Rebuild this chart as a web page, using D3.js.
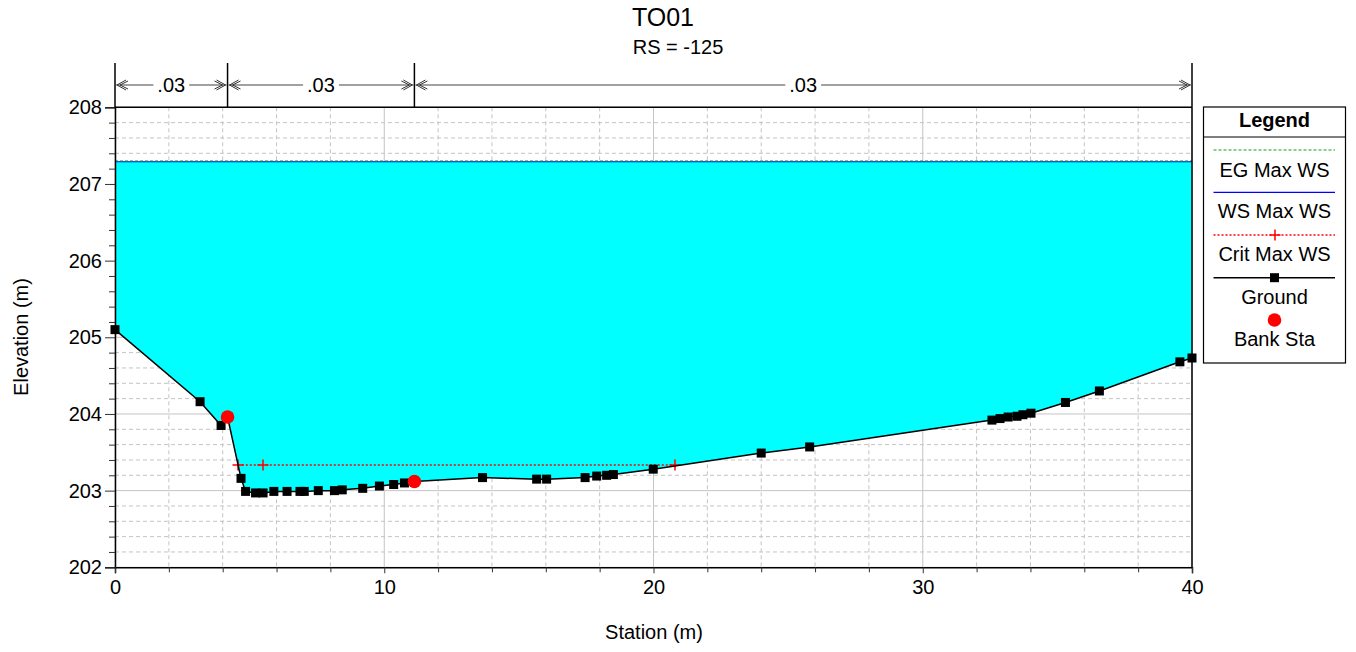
<!DOCTYPE html>
<html><head><meta charset="utf-8">
<script src="https://cdn.jsdelivr.net/npm/d3@7"></script>
<style>
html,body{margin:0;padding:0;background:#fff;}
svg text{font-family:"Liberation Sans",Arial,sans-serif;fill:#000;}
</style></head>
<body><svg id="c" width="1356" height="652"></svg>
<script>
const groundSta  = [0, 3.16, 3.94, 4.18, 4.68, 4.85, 5.22, 5.5, 5.9, 6.39, 6.87, 7.03, 7.55, 8.15, 8.44, 9.2, 9.82, 10.35, 10.75, 11.12, 13.65, 15.66, 16.03, 17.46, 17.89, 18.26, 18.51, 19.99, 24.0, 25.8, 32.57, 32.87, 33.17, 33.5, 33.72, 34.02, 35.3, 36.56, 39.55, 40];
const groundElev = [205.10, 204.16, 203.85, 203.96, 203.16, 202.99, 202.97, 202.97, 202.99, 202.99, 202.99, 202.99, 203.0, 203.0, 203.01, 203.03, 203.06, 203.08, 203.10, 203.12, 203.17, 203.15, 203.15, 203.17, 203.19, 203.20, 203.21, 203.28, 203.49, 203.57, 203.92, 203.94, 203.96, 203.97, 203.99, 204.01, 204.15, 204.30, 204.68, 204.73];
const bankSta  = [4.18, 11.12];
const bankElev = [203.96, 203.12];
const critSta  = [4.56, 5.5, 20.8];
const critElev = [203.33, 203.33, 203.33];
const wsElev = 207.29;
const egElev = 207.30;
const nBreaks = [0, 4.18, 11.12, 40];
const nLabels = [".03", ".03", ".03"];
const xTicks = [0, 10, 20, 30, 40];
const yTicks = [202, 203, 204, 205, 206, 207, 208];
const legendItems = ["EG Max WS", "WS Max WS", "Crit Max WS", "Ground", "Bank Sta"];

const svg = d3.select("#c");
const L = 115, R = 1192, T = 107.3, B = 567.3;
const x = d3.scaleLinear().domain([0, 40]).range([L, R]);
const y = d3.scaleLinear().domain([202, 208]).range([B, T]);
const FONT = 20;
const RED = "rgb(255,0,0)";

// gridlines
const grid = svg.append("g");
const minorX = d3.range(0, 40.001, 2);
const minorY = d3.range(202, 208.001, 0.2).map(v => +v.toFixed(1));
grid.selectAll(".gx").data(minorX).join("line")
  .attr("x1", d => x(d)).attr("x2", d => x(d)).attr("y1", T).attr("y2", B)
  .attr("stroke", "#c4c4c4").attr("stroke-width", 1)
  .attr("stroke-dasharray", d => (Math.abs(d % 10) < 1e-6) ? null : "4,3");
grid.selectAll(".gy").data(minorY).join("line")
  .attr("x1", L).attr("x2", R).attr("y1", d => y(d)).attr("y2", d => y(d))
  .attr("stroke", "#c4c4c4").attr("stroke-width", 1)
  .attr("stroke-dasharray", d => (Math.abs(d - Math.round(d)) < 1e-6) ? null : "4,3");

// water
const pts = groundSta.map((s, i) => [s, groundElev[i]]);
svg.append("path").datum(pts)
  .attr("d", d3.area().x(d => x(d[0])).y0(d => y(d[1])).y1(() => y(wsElev)))
  .attr("fill", "#00ffff");

// WS and EG
svg.append("line").attr("x1", x(0)).attr("x2", x(40)).attr("y1", y(wsElev)).attr("y2", y(wsElev))
  .attr("stroke", "#0000ff").attr("stroke-width", 1.2);
svg.append("line").attr("x1", x(0)).attr("x2", x(40)).attr("y1", y(egElev)).attr("y2", y(egElev))
  .attr("stroke", "#1a9a1a").attr("stroke-width", 1).attr("stroke-dasharray", "3,2");

// crit
const critPts = critSta.map((s, i) => [s, critElev[i]]);
svg.append("path").datum(critPts)
  .attr("d", d3.line().x(d => x(d[0])).y(d => Math.round(y(d[1]))))
  .attr("fill", "none").attr("stroke", RED).attr("stroke-width", 1.6)
  .attr("stroke-dasharray", "2,2");
const plus = (g, cx, cy) => {
  cx = Math.round(cx); cy = Math.round(cy);
  g.append("path").attr("d", `M${cx-5.5},${cy}H${cx+5.5}M${cx},${cy-5.5}V${cy+5.5}`)
   .attr("stroke", RED).attr("stroke-width", 1.5).attr("fill", "none");
};
critPts.forEach(p => plus(svg, x(p[0]), y(p[1])));

// ground
svg.append("path").datum(pts)
  .attr("d", d3.line().x(d => x(d[0])).y(d => y(d[1])))
  .attr("fill", "none").attr("stroke", "#000").attr("stroke-width", 1.5);
svg.selectAll(".sq").data(pts).join("rect")
  .attr("x", d => x(d[0]) - 4.5).attr("y", d => y(d[1]) - 4.5)
  .attr("width", 9).attr("height", 9).attr("fill", "#000");
svg.selectAll(".bk").data(bankSta.map((s, i) => [s, bankElev[i]])).join("circle")
  .attr("cx", d => x(d[0])).attr("cy", d => y(d[1])).attr("r", 6.8).attr("fill", RED);

// axes
svg.append("g").attr("transform", `translate(${L},0)`)
  .call(d3.axisLeft(y).tickValues(yTicks).tickFormat(d3.format("d")).tickSize(10).tickPadding(3));
svg.append("g").attr("transform", `translate(${L},0)`)
  .call(d3.axisLeft(y).tickValues(minorY.filter(v => Math.abs(v - Math.round(v)) > 1e-6)).tickFormat("").tickSize(6))
  .select(".domain").remove();
svg.append("g").attr("transform", `translate(0,${B})`)
  .call(d3.axisBottom(x).tickValues(xTicks).tickFormat(d3.format("d")).tickSize(6).tickPadding(7));
svg.append("g").attr("transform", `translate(0,${B})`)
  .call(d3.axisBottom(x).tickValues(minorX.filter(v => v % 10 !== 0)).tickFormat("").tickSize(5))
  .select(".domain").remove();
svg.selectAll(".domain").attr("stroke", "#000").attr("stroke-width", 1.5);
svg.selectAll(".tick line").attr("stroke", "#333");
svg.selectAll(".tick text").attr("font-size", FONT).attr("font-family", "Liberation Sans, Arial, sans-serif").attr("fill", "#000");
// frame top/right
svg.append("line").attr("x1", L).attr("x2", R).attr("y1", T).attr("y2", T).attr("stroke", "#000").attr("stroke-width", 1.5);
svg.append("line").attr("x1", R).attr("x2", R).attr("y1", T).attr("y2", B).attr("stroke", "#000").attr("stroke-width", 1.5);

// n-value markers
const nY = 85;
const ng = svg.append("g");
nBreaks.forEach(b => {
  ng.append("line").attr("x1", x(b)).attr("x2", x(b)).attr("y1", 63).attr("y2", T)
    .attr("stroke", "#000").attr("stroke-width", 1.5);
});
nLabels.forEach((lab, i) => {
  const a = x(nBreaks[i]), b = x(nBreaks[i + 1]), mid = (a + b) / 2;
  const t = ng.append("text").attr("x", mid).attr("y", nY + 7).attr("text-anchor", "middle")
    .attr("font-size", FONT).text(lab);
  const w = t.node().getComputedTextLength();
  ng.append("line").attr("x1", a + 1).attr("x2", mid - w / 2 - 4).attr("y1", nY).attr("y2", nY).attr("stroke", "#444").attr("stroke-width", 1.2);
  ng.append("line").attr("x1", mid + w / 2 + 4).attr("x2", b - 1).attr("y1", nY).attr("y2", nY).attr("stroke", "#444").attr("stroke-width", 1.2);
  ng.append("path").attr("d", `M${a+11},${nY-5}L${a+2},${nY}L${a+11},${nY+5}M${a+13},${nY-4}L${a+5},${nY}L${a+13},${nY+4}`)
    .attr("fill", "none").attr("stroke", "#333").attr("stroke-width", 1);
  ng.append("path").attr("d", `M${b-11},${nY-5}L${b-2},${nY}L${b-11},${nY+5}M${b-13},${nY-4}L${b-5},${nY}L${b-13},${nY+4}`)
    .attr("fill", "none").attr("stroke", "#333").attr("stroke-width", 1);
});

// titles
svg.append("text").attr("x", 663).attr("y", 26).attr("text-anchor", "middle").attr("font-size", 25).text("TO01");
svg.append("text").attr("x", 678).attr("y", 54).attr("text-anchor", "middle").attr("font-size", 20).text("RS = -125");
svg.append("text").attr("x", 654).attr("y", 639).attr("text-anchor", "middle").attr("font-size", FONT).text("Station (m)");
svg.append("text").attr("transform", "translate(28,337) rotate(-90)").attr("text-anchor", "middle").attr("font-size", FONT).text("Elevation (m)");

// legend
const lg = svg.append("g");
const lx0 = 1203.5, lx1 = 1345.5, ly0 = 107, ly1 = 363, lc = (lx0 + lx1) / 2;
lg.append("rect").attr("x", lx0).attr("y", ly0).attr("width", lx1 - lx0).attr("height", ly1 - ly0)
  .attr("fill", "#fff").attr("stroke", "#000").attr("stroke-width", 1.2);
lg.append("line").attr("x1", lx0).attr("x2", lx1).attr("y1", 137).attr("y2", 137).attr("stroke", "#000").attr("stroke-width", 1.2);
lg.append("text").attr("x", lc).attr("y", 127).attr("text-anchor", "middle").attr("font-size", FONT).attr("font-weight", "bold").text("Legend");
const symY = [150, 192.3, 235, 277.7, 320];
const txtY = [177, 218, 261, 304, 346];
const lxa = 1213.5, lxb = 1335;
lg.append("line").attr("x1", lxa).attr("x2", lxb).attr("y1", symY[0]).attr("y2", symY[0]).attr("stroke", "#1a9a1a").attr("stroke-dasharray", "3,2").attr("stroke-width", 1.2);
lg.append("line").attr("x1", lxa).attr("x2", lxb).attr("y1", symY[1]).attr("y2", symY[1]).attr("stroke", "#0000ff").attr("stroke-width", 1.2);
lg.append("line").attr("x1", lxa).attr("x2", lxb).attr("y1", symY[2]).attr("y2", symY[2]).attr("stroke", RED).attr("stroke-dasharray", "2,2").attr("stroke-width", 1.4);
plus(lg, lc, symY[2]);
lg.append("line").attr("x1", lxa).attr("x2", lxb).attr("y1", symY[3]).attr("y2", symY[3]).attr("stroke", "#000").attr("stroke-width", 1.5);
lg.append("rect").attr("x", lc - 4.5).attr("y", symY[3] - 4.5).attr("width", 9).attr("height", 9).attr("fill", "#000");
lg.append("circle").attr("cx", lc).attr("cy", symY[4]).attr("r", 6.8).attr("fill", RED);
legendItems.forEach((t, i) => {
  lg.append("text").attr("x", lc).attr("y", txtY[i]).attr("text-anchor", "middle").attr("font-size", FONT).text(t);
});
</script></body></html>
